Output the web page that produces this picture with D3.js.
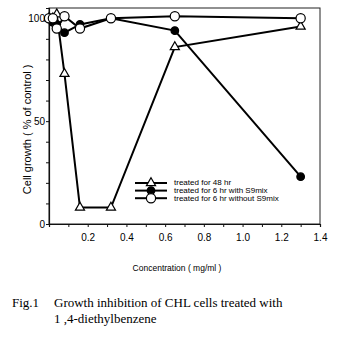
<!DOCTYPE html>
<html>
<head>
<meta charset="utf-8">
<script src="https://cdn.jsdelivr.net/npm/d3@7"></script>
<style>
  body { margin: 0; background: #fff; }
  svg { display: block; }
</style>
</head>
<body>
<div id="chart"></div>
<script>
// concentrations (mg/ml), 2-fold dilution series
var conc = [0, 0.02, 0.04, 0.08, 0.16, 0.32, 0.65, 1.3];
// cell growth, % of control
var growth48hr = [100, 100, 102, 73, 8, 8, 86, 96];
var growthS9 = [100, 98, 97, 93, 97, 100, 94, 23];
var growthNoS9 = [100, 100, 95, 101, 95, 100, 101, 100];

var legendLabels = ["treated for 48 hr", "treated for 6 hr with S9mix", "treated for 6 hr without S9mix"];
var xTickLabels = [0.2, 0.4, 0.6, 0.8, 1.0, 1.2, 1.4];
var yTickLabels = [0, 50, 100];

var width = 339, height = 342;
var marginLeft = 49, marginRight = 19, marginTop = 8, marginBottom = 118;

var svg = d3.select("#chart").append("svg")
    .attr("width", width)
    .attr("height", height)
    .attr("viewBox", [0, 0, width, height]);

var xScale = d3.scaleLinear().domain([0, 1.4]).range([marginLeft, width - marginRight]);
var yScale = d3.scaleLinear().domain([0, 105]).range([height - marginBottom, marginTop]);

// frame (top and right)
svg.append("rect")
    .attr("x", xScale(0))
    .attr("y", yScale(105))
    .attr("width", xScale(1.4) - xScale(0))
    .attr("height", yScale(0) - yScale(105))
    .attr("fill", "none")
    .attr("stroke", "#222")
    .attr("stroke-width", 1);

// x axis, minor ticks every 0.1
var xAxis = d3.axisBottom(xScale)
    .tickValues(d3.range(1, 15).map(d => d / 10))
    .tickSize(3)
    .tickFormat(d => xTickLabels.some(v => Math.abs(v - d) < 1e-6) ? d3.format(".1f")(d) : "");
svg.append("g")
    .attr("transform", `translate(0,${yScale(0)})`)
    .call(xAxis)
    .call(g => g.select(".domain").attr("stroke", "#111").attr("stroke-width", 1.2))
    .call(g => g.selectAll(".tick line").attr("stroke", "#111"))
    .call(g => g.selectAll("text")
        .attr("font-family", "Liberation Sans, Arial, sans-serif")
        .attr("font-size", 10)
        .attr("fill", "#000")
        .attr("dy", "1.05em"));

// y axis, minor ticks every 10
var yAxis = d3.axisLeft(yScale)
    .tickValues(d3.range(0, 101, 10))
    .tickSize(3)
    .tickFormat(d => yTickLabels.indexOf(d) >= 0 ? d : "");
svg.append("g")
    .attr("transform", `translate(${xScale(0)},0)`)
    .call(yAxis)
    .call(g => g.select(".domain").attr("stroke", "#111").attr("stroke-width", 1.2))
    .call(g => g.selectAll(".tick line").attr("stroke", "#111"))
    .call(g => g.selectAll("text")
        .attr("font-family", "Liberation Sans, Arial, sans-serif")
        .attr("font-size", 10)
        .attr("fill", "#000")
        .attr("x", -4));

// axis titles
svg.append("text")
    .attr("transform", `translate(31,${yScale(46)}) rotate(-90)`)
    .attr("text-anchor", "middle")
    .attr("font-family", "Liberation Sans, Arial, sans-serif")
    .attr("font-size", 11)
    .attr("fill", "#000")
    .text("Cell growth ( % of control )");

svg.append("text")
    .attr("x", 177)
    .attr("y", 271)
    .attr("text-anchor", "middle")
    .attr("font-family", "Liberation Sans, Arial, sans-serif")
    .attr("font-size", 8.5)
    .attr("fill", "#000")
    .text("Concentration ( mg/ml )");

var line = d3.line()
    .x(d => xScale(d[0]))
    .y(d => yScale(d[1]));

var series = [
  { name: legendLabels[0], values: growth48hr, marker: "triangle" },
  { name: legendLabels[1], values: growthS9, marker: "filled" },
  { name: legendLabels[2], values: growthNoS9, marker: "open" }
];

function drawMarker(g, type) {
  if (type === "triangle") {
    g.append("path")
        .attr("d", d3.symbol(d3.symbolTriangle, 36)())
        .attr("fill", "#fff")
        .attr("stroke", "#000")
        .attr("stroke-width", 1.2);
  } else {
    g.append("circle")
        .attr("r", type === "filled" ? 3.8 : 4.6)
        .attr("fill", type === "filled" ? "#000" : "#fff")
        .attr("stroke", "#000")
        .attr("stroke-width", 1.2);
  }
}

series.forEach(function(s) {
  var pts = conc.map((c, i) => [c, s.values[i]]);
  svg.append("path")
      .datum(pts)
      .attr("fill", "none")
      .attr("stroke", "#000")
      .attr("stroke-width", 2)
      .attr("d", line);
  svg.append("g")
    .selectAll("g")
    .data(pts)
    .join("g")
      .attr("transform", d => `translate(${xScale(d[0])},${yScale(d[1])})`)
      .each(function() { drawMarker(d3.select(this), s.marker); });
});

// legend
var legend = svg.append("g").attr("transform", "translate(135,183)");
series.forEach(function(s, i) {
  var row = legend.append("g").attr("transform", `translate(0,${i * 7.6})`);
  row.append("line")
      .attr("x1", 0).attr("x2", 32)
      .attr("stroke", "#000")
      .attr("stroke-width", 2);
  drawMarker(row.append("g").attr("transform", "translate(16,0)"), s.marker);
  var t = row.append("text")
      .attr("x", 39)
      .attr("dy", "0.35em")
      .attr("font-family", "Liberation Sans, Arial, sans-serif")
      .attr("font-size", 6.8)
      .attr("fill", "#000")
      .text(s.name);
  // the printed legend uses a condensed face that runs a bit wider
  var w = t.node().getComputedTextLength();
  t.attr("textLength", w * 1.18).attr("lengthAdjust", "spacingAndGlyphs");
});

// caption
var caption = svg.append("g")
    .attr("font-family", "Liberation Serif, Times New Roman, serif")
    .attr("font-size", 13)
    .attr("fill", "#000");
caption.append("text").attr("x", 12).attr("y", 307).text("Fig.1");
caption.append("text").attr("x", 54).attr("y", 307).text("Growth inhibition of CHL cells treated with");
caption.append("text").attr("x", 54).attr("y", 323).text("1 ,4-diethylbenzene");
</script>
</body>
</html>
